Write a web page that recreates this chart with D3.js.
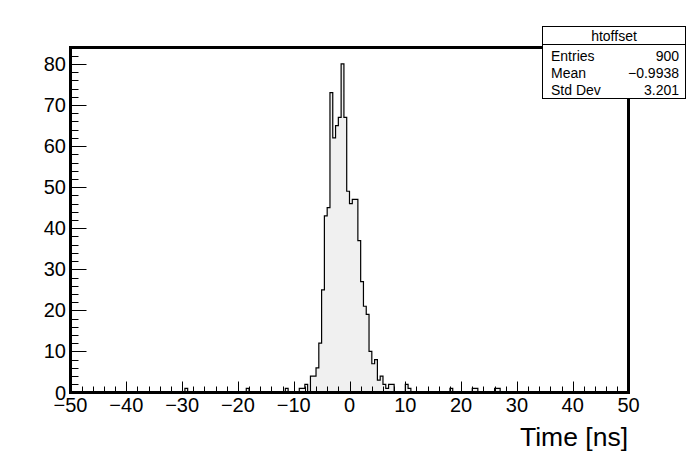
<!DOCTYPE html>
<html>
<head>
<meta charset="utf-8">
<script src="https://cdnjs.cloudflare.com/ajax/libs/d3/7.8.5/d3.min.js"></script>
<style>
  html, body { margin: 0; padding: 0; background: #fff; }
  svg text { font-family: "Liberation Sans", Arial, Helvetica, sans-serif; }
</style>
</head>
<body>
<svg id="chart" width="698" height="474"></svg>
<script>
// ---- data ----
const histName = "htoffset";
const xTitle = "Time [ns]";
const xMin = -50, xMax = 50, binWidth = 0.5;
const yMaxAxis = 84;
// lower edges of non-empty bins and their counts
const binStarts = [-29.5, -18.5, -11.5,
  -9, -8.5, -8, -7, -6.5, -6, -5.5, -5, -4.5, -4, -3.5, -3, -2.5, -2, -1.5, -1, -0.5,
  0, 0.5, 1, 1.5, 2, 2.5, 3, 3.5, 4, 4.5, 5, 5.5, 6, 6.5, 7, 7.5,
  10, 10.5, 18, 22, 22.5, 26, 26.5];
const binCounts = [1, 1, 1,
  1, 1, 2, 4, 4, 6, 12, 25, 43, 45, 73, 62, 65, 67, 80, 67, 49,
  46, 47, 47, 37, 27, 21, 19, 10, 7, 8, 3, 4, 2, 1, 2, 2,
  2, 1, 1, 1, 1, 1, 1];
const xTickValues = [-50, -40, -30, -20, -10, 0, 10, 20, 30, 40, 50];
const yTickValues = [0, 10, 20, 30, 40, 50, 60, 70, 80];
const statLabels = ["Entries", "Mean", "Std Dev"];
const statValues = ["900", "\u22120.9938", "3.201"];

// ---- build full histogram ----
const nBins = Math.round((xMax - xMin) / binWidth);
const counts = new Array(nBins).fill(0);
binStarts.forEach((s, i) => {
  const k = Math.round((s - xMin) / binWidth);
  counts[k] = binCounts[i];
});

const svg = d3.select("#chart");
const L = 70.5, R = 628.5, T = 47.5, B = 392.5;
const x = d3.scaleLinear().domain([xMin, xMax]).range([L, R]);
const y = d3.scaleLinear().domain([0, yMaxAxis]).range([B, T]);

svg.append("rect").attr("width", 698).attr("height", 474).attr("fill", "#fff");

// histogram path
let d = `M${x(xMin)},${y(0)}`;
counts.forEach((c, k) => {
  const x0 = xMin + k * binWidth;
  d += `V${y(c)}H${x(x0 + binWidth)}`;
});
svg.append("path").attr("d", d + `V${y(0)}Z`).attr("fill", "#f0f0f0").attr("stroke", "none");
svg.append("path").attr("d", d + `V${y(0)}`).attr("fill", "none").attr("stroke", "#000").attr("stroke-width", 1.2);

// ticks
const gT = svg.append("g").attr("stroke", "#000").attr("stroke-width", 1);
d3.range(xMin, xMax + 0.001, 2).forEach(v => {
  const major = Math.abs(v % 10) < 1e-9;
  const len = major ? 11 : 6;
  gT.append("line").attr("x1", Math.round(x(v)) + 0.5).attr("x2", Math.round(x(v)) + 0.5)
    .attr("y1", B).attr("y2", B - len);
});
d3.range(0, yMaxAxis + 0.001, 2).forEach(v => {
  const major = Math.abs(v % 10) < 1e-9;
  const len = major ? 16 : 8;
  gT.append("line").attr("x1", L).attr("x2", L + len)
    .attr("y1", Math.round(y(v)) + 0.5).attr("y2", Math.round(y(v)) + 0.5);
});

// frame
svg.append("rect").attr("x", L).attr("y", T).attr("width", R - L).attr("height", B - T)
  .attr("fill", "none").attr("stroke", "#000").attr("stroke-width", 3);

// tick labels
const fmt = v => (v < 0 ? "\u2212" : "") + Math.abs(v);
svg.append("g").selectAll("text").data(xTickValues).join("text")
  .attr("x", v => x(v)).attr("y", 412).attr("text-anchor", "middle")
  .attr("font-size", 20).attr("fill", "#000").text(fmt);
svg.append("g").selectAll("text").data(yTickValues).join("text")
  .attr("x", 66).attr("y", v => y(v) + 7).attr("text-anchor", "end")
  .attr("font-size", 20).attr("fill", "#000").text(fmt);

// axis title
svg.append("text").attr("x", 628).attr("y", 446).attr("text-anchor", "end")
  .attr("font-size", 26.5).attr("fill", "#000").text(xTitle);

// stats box
const sb = { x: 542.5, y: 26.5, w: 143, h: 72 };
svg.append("rect").attr("x", sb.x).attr("y", sb.y).attr("width", sb.w).attr("height", sb.h)
  .attr("fill", "#fff").attr("stroke", "#000").attr("stroke-width", 1);
svg.append("line").attr("x1", sb.x).attr("x2", sb.x + sb.w).attr("y1", 44.5).attr("y2", 44.5)
  .attr("stroke", "#000").attr("stroke-width", 1);
svg.append("text").attr("x", sb.x + sb.w / 2).attr("y", 40.5).attr("text-anchor", "middle")
  .attr("font-size", 14).attr("fill", "#000").text(histName);
statLabels.forEach((s, i) => {
  svg.append("text").attr("x", 551).attr("y", 60.5 + i * 17).attr("font-size", 14)
    .attr("fill", "#000").text(s);
  svg.append("text").attr("x", 679).attr("y", 60.5 + i * 17).attr("font-size", 14)
    .attr("text-anchor", "end").attr("fill", "#000").text(statValues[i]);
});
</script>
</body>
</html>
